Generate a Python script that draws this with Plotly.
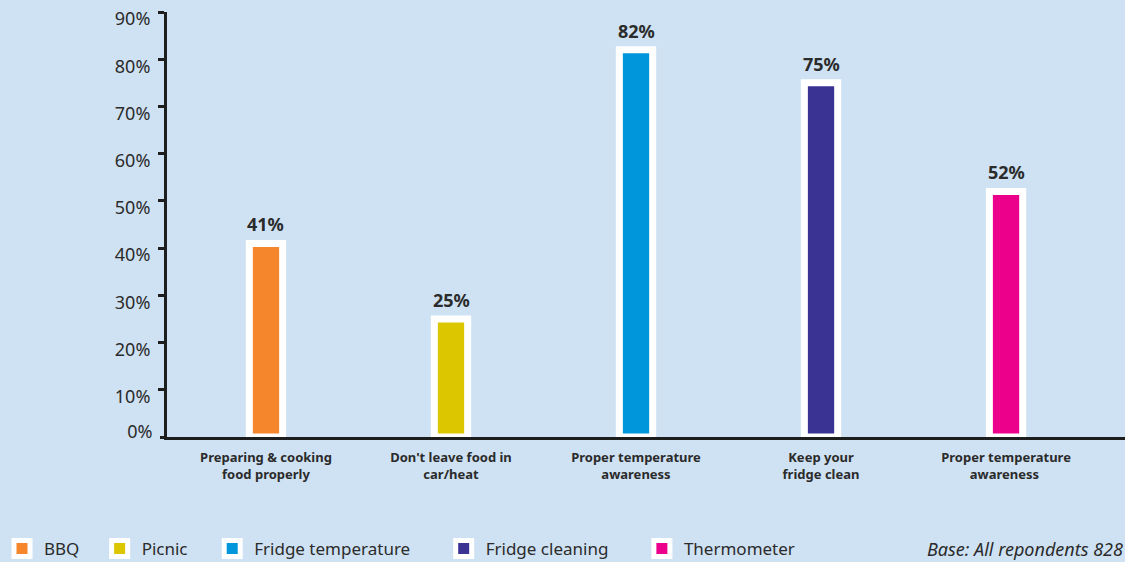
import plotly.graph_objects as go

# Survey results: share of respondents aware of each food-safety message
categories = [
    "Preparing & cooking<br>food properly",
    "Don't leave food in<br>car/heat",
    "Proper temperature<br>awareness",
    "Keep your<br>fridge clean",
    "Proper temperature<br>awareness ",
]
series_names = ["BBQ", "Picnic", "Fridge temperature", "Fridge cleaning", "Thermometer"]
values = [41, 25, 82, 75, 52]
colors = ["#F6862C", "#DCC600", "#0096DB", "#3A3393", "#EC008B"]
y_ticks = [10, 20, 30, 40, 50, 60, 70, 80, 90]
y_tick_labels = [f"{v}%" for v in y_ticks]
y_base_tick = [0]
y_base_label = ["0%"]
base_note = "Base: All repondents 828"

BG = "#CFE2F3"
INK = "#2B2B2B"
AXIS = "#1E1E1E"
FONT = "Noto Sans"
# trailing space after each legend label, in non-breaking spaces
legend_pad = [3, 4, 6, 6, 0]

fig = go.Figure()

# One bar per message, outlined in white
fig.add_trace(go.Bar(
    x=categories,
    y=values,
    marker=dict(color=colors, line=dict(color="white", width=7)),
    width=0.18,
    showlegend=False,
    hoverinfo="skip",
))

# Value labels above each bar
for cat, v in zip(categories, values):
    fig.add_annotation(
        x=cat, y=v, text=f"<b>{v}%</b>", showarrow=False,
        xanchor="center", yanchor="bottom", yshift=5,
        font=dict(family=FONT, size=18, color=INK),
    )

# Legend entries (one per series colour)
for name, col, pad in zip(series_names, colors, legend_pad):
    fig.add_trace(go.Scatter(
        x=[None], y=[None], yaxis="y2", mode="markers",
        name=name + "&nbsp;" * pad,
        marker=dict(symbol="square", size=16, color=col,
                    line=dict(color="white", width=5)),
    ))

fig.add_annotation(
    text=f"<i>{base_note}</i>", xref="paper", yref="paper",
    x=1.0, y=-0.2635, xanchor="right", yanchor="middle", showarrow=False,
    font=dict(family=FONT, size=18, color=INK),
)

tick_style = dict(
    ticks="outside", ticklen=6, tickwidth=3, tickcolor=AXIS,
    tickfont=dict(family=FONT, size=18, color=INK),
    ticklabelstandoff=4, automargin=False, fixedrange=True,
    showgrid=False, zeroline=False, range=[0, 90],
)

fig.update_layout(
    width=1125, height=562,
    paper_bgcolor=BG, plot_bgcolor=BG,
    margin=dict(l=167, r=0, t=12, b=125),
    font=dict(family=FONT, color=INK),
    legend=dict(
        orientation="h", xref="container", yref="container",
        x=-0.0035, xanchor="left", y=0.0231, yanchor="middle",
        itemwidth=34,
        font=dict(family=FONT, size=17, color=INK),
        bgcolor="rgba(0,0,0,0)", itemclick=False, itemdoubleclick=False,
    ),
    xaxis=dict(
        range=[-0.535, 4.643], showgrid=False, zeroline=False,
        showline=True, linecolor=AXIS, linewidth=3,
        ticks="", tickfont=dict(family=FONT, size=13, color=INK),
        tickprefix="<b>", ticksuffix="</b>",
        ticklabelstandoff=6, automargin=False,
        fixedrange=True,
    ),
    yaxis=dict(
        showline=True, linecolor=AXIS, linewidth=3,
        tickvals=y_ticks, ticktext=y_tick_labels,
        ticklabelshift=7, **tick_style,
    ),
    # separate axis carrying only the baseline label, which sits just above the tick
    yaxis2=dict(
        overlaying="y", side="left", showline=False,
        tickvals=y_base_tick, ticktext=y_base_label,
        ticklabelshift=-5, **tick_style,
    ),
)

fig.write_html("out.html")
